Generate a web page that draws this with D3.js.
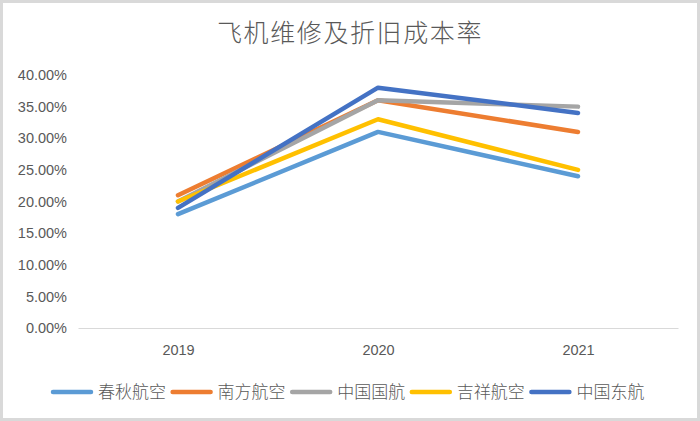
<!DOCTYPE html>
<html>
<head>
<meta charset="utf-8">
<script src="https://cdn.jsdelivr.net/npm/d3@7"></script>
<style>
  body { margin: 0; background: #fff; }
  text { fill: #595959; }
</style>
</head>
<body>
<div id="chart-area"></div>
<script>
// chart data
const years = ["2019", "2020", "2021"];
const seriesNames = ["春秋航空", "南方航空", "中国国航", "吉祥航空", "中国东航"];
const springAir = [0.18, 0.31, 0.24];
const chinaSouthern = [0.21, 0.36, 0.31];
const airChina = [0.20, 0.36, 0.35];
const juneyao = [0.20, 0.33, 0.25];
const chinaEastern = [0.19, 0.38, 0.34];
const yTicks = [0, 0.05, 0.10, 0.15, 0.20, 0.25, 0.30, 0.35, 0.40];
const colors = ["#5b9bd5", "#ed7d31", "#a5a5a5", "#ffc000", "#4472c4"];

const series = [springAir, chinaSouthern, airChina, juneyao, chinaEastern]
    .map((vals, i) => ({name: seriesNames[i], color: colors[i], values: vals}));

const width = 700, height = 421;
const margin = {top: 75, right: 22, bottom: 93, left: 78};
const innerW = width - margin.left - margin.right;
const innerH = height - margin.top - margin.bottom;

const svg = d3.select("#chart-area")
    .append("svg")
    .attr("width", width)
    .attr("height", height);

// outer frame
svg.append("rect")
    .attr("x", 1.5).attr("y", 1.5)
    .attr("width", width - 3).attr("height", height - 3)
    .attr("fill", "#fff")
    .attr("stroke", "#d9d9d9")
    .attr("stroke-width", 3);

svg.append("text")
    .attr("x", width / 2)
    .attr("y", 42)
    .attr("text-anchor", "middle")
    .attr("font-family", "'Noto Sans CJK SC', sans-serif")
    .attr("font-weight", 300)
    .attr("font-size", 25)
    .attr("letter-spacing", 1.6)
    .text("飞机维修及折旧成本率");

const g = svg.append("g")
    .attr("transform", "translate(" + margin.left + "," + margin.top + ")");

const x = d3.scalePoint()
    .domain(years)
    .range([0, innerW])
    .padding(0.5);

const y = d3.scaleLinear()
    .domain([0, 0.4])
    .range([innerH, 0]);

// y axis labels, no line
const yAxis = g.append("g")
    .call(d3.axisLeft(y).tickValues(yTicks).tickFormat(d3.format(".2%")).tickSize(0).tickPadding(11));
yAxis.select(".domain").remove();
yAxis.selectAll("text")
    .attr("font-family", "'Liberation Sans', sans-serif")
    .attr("font-size", 14.5)
    .attr("fill", "#595959");

// x axis
const xAxis = g.append("g")
    .attr("transform", "translate(0," + innerH + ")")
    .call(d3.axisBottom(x).tickSize(0).tickPadding(17));
xAxis.select(".domain")
    .attr("stroke", "#d9d9d9")
    .attr("stroke-width", 1);
xAxis.selectAll("text")
    .attr("font-family", "'Liberation Sans', sans-serif")
    .attr("font-size", 14.5)
    .attr("fill", "#595959");

const line = d3.line()
    .x((d, i) => x(years[i]))
    .y(d => y(d));

g.selectAll(".series")
    .data(series)
    .enter()
    .append("path")
    .attr("class", "series")
    .attr("d", d => line(d.values))
    .attr("fill", "none")
    .attr("stroke", d => d.color)
    .attr("stroke-width", 4.5)
    .attr("stroke-linecap", "round")
    .attr("stroke-linejoin", "round");

// legend
const legend = svg.append("g")
    .attr("transform", "translate(51,392)");
const items = legend.selectAll("g")
    .data(series)
    .enter()
    .append("g")
    .attr("transform", (d, i) => "translate(" + (i * 119.6) + ",0)");
items.append("line")
    .attr("x1", 2).attr("x2", 40)
    .attr("stroke", d => d.color)
    .attr("stroke-width", 4.5)
    .attr("stroke-linecap", "round");
items.append("text")
    .attr("x", 47)
    .attr("y", 6)
    .attr("font-family", "'Noto Sans CJK SC', sans-serif")
    .attr("font-weight", 300)
    .attr("font-size", 17)
    .text(d => d.name);
</script>
</body>
</html>
